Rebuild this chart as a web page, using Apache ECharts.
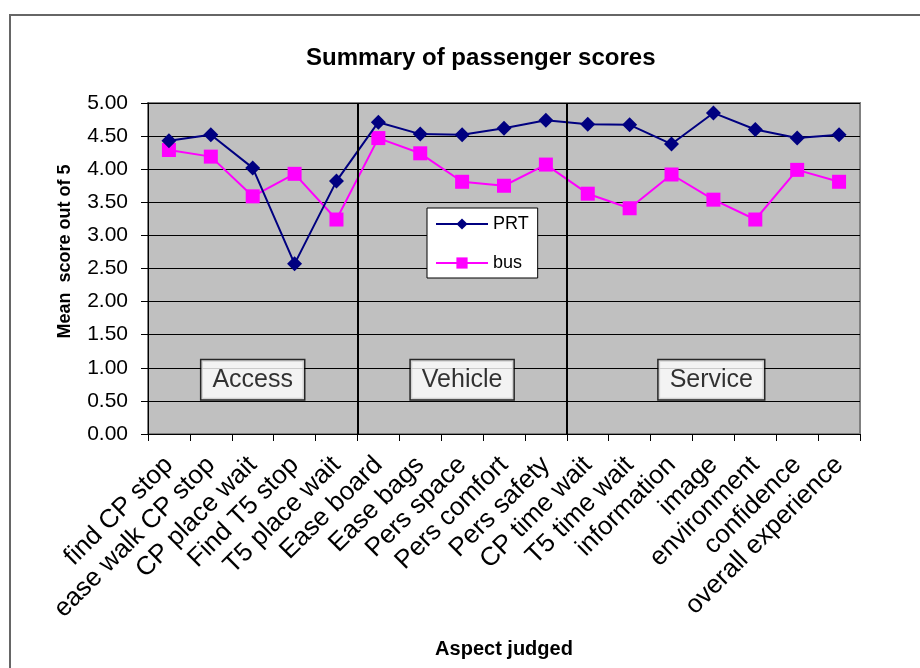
<!DOCTYPE html>
<html>
<head>
<meta charset="utf-8">
<script src="https://cdn.jsdelivr.net/npm/echarts@6/dist/echarts.min.js"></script>
<style>
  html, body { margin: 0; padding: 0; background: #fff; }
  #chart { width: 920px; height: 668px; }
</style>
</head>
<body>
<div id="chart"></div>
<script>
// Aspects judged, left to right
const categories = [
  'find CP stop', 'ease walk CP stop', 'CP place wait', 'Find T5 stop', 'T5 place wait',
  'Ease board', 'Ease bags', 'Pers space', 'Pers comfort', 'Pers safety',
  'CP time wait', 'T5 time wait', 'information', 'image', 'environment',
  'confidence', 'overall experience'
];

// Mean scores (out of 5)
const prtScores = [4.43, 4.52, 4.02, 2.57, 3.82, 4.71, 4.53, 4.52, 4.62, 4.74,
                   4.68, 4.67, 4.38, 4.85, 4.60, 4.47, 4.52];
const busScores = [4.29, 4.19, 3.59, 3.93, 3.24, 4.47, 4.24, 3.81, 3.75, 4.07,
                   3.63, 3.41, 3.92, 3.54, 3.24, 3.99, 3.81];

// Group boundaries (in category units) and group captions
const groupBoundaries = [5, 10];
const groupLabels = [
  [2.5, 0.82, 'Access'],
  [7.5, 0.82, 'Vehicle'],
  [13.45, 0.82, 'Service']
];

// Y-axis ticks
const yMin = 0, yMax = 5, yStep = 0.5;

const FONT = 'Liberation Sans, Arial, sans-serif';
const chart = echarts.init(document.getElementById('chart'));

chart.setOption({
  animation: false,
  backgroundColor: '#fff',
  textStyle: { fontFamily: FONT, color: '#000' },
  title: {
    text: 'Summary of passenger scores',
    left: 301,
    top: 41,
    textStyle: { fontFamily: FONT, fontSize: 24, fontWeight: 'bold', color: '#000' }
  },
  graphic: [{
    type: 'rect',
    shape: { x: 10, y: 15, width: 930, height: 680 },
    style: { fill: 'none', stroke: '#666', lineWidth: 2 },
    silent: true,
    z: -1
  }],
  legend: {
    orient: 'vertical',
    left: 427,
    top: 208,
    padding: [7, 9, 6, 8],
    itemGap: 21,
    itemWidth: 52,
    itemHeight: 14,
    backgroundColor: '#fff',
    borderColor: '#000',
    borderWidth: 1,
    textStyle: { fontFamily: FONT, fontSize: 18, color: '#000' },
    data: ['PRT', 'bus']
  },
  grid: {
    left: 148, right: 60, top: 103, bottom: 234,
    show: true,
    backgroundColor: '#C0C0C0',
    borderColor: '#808080',
    borderWidth: 2
  },
  xAxis: [{
    type: 'category',
    data: categories,
    boundaryGap: true,
    name: 'Aspect judged',
    nameLocation: 'middle',
    nameGap: 205,
    nameTextStyle: { fontFamily: FONT, fontSize: 20, fontWeight: 'bold', color: '#000' },
    axisLine: { lineStyle: { color: '#000', width: 1 } },
    axisTick: { show: true, alignWithLabel: false, length: 7, lineStyle: { color: '#000' }, interval: 0 },
    axisLabel: { interval: 0, rotate: 45, fontFamily: FONT, fontSize: 26, color: '#000', margin: 27 },
    splitLine: { show: false }
  }, {
    type: 'value',
    min: 0,
    max: categories.length,
    show: false
  }],
  yAxis: {
    type: 'value',
    min: yMin,
    max: yMax,
    interval: yStep,
    name: 'Mean  score out of 5',
    nameLocation: 'middle',
    nameGap: 74,
    nameTextStyle: { fontFamily: FONT, fontSize: 18, fontWeight: 'bold', color: '#000', padding: [0, 0, 0, 34] },
    axisLine: { show: true, lineStyle: { color: '#000', width: 1 } },
    axisTick: { show: true, length: 7, lineStyle: { color: '#000' } },
    axisLabel: {
      fontFamily: FONT, fontSize: 21, color: '#000', margin: 20,
      formatter: v => v.toFixed(2)
    },
    splitLine: { show: true, lineStyle: { color: '#000', width: 1 } }
  },
  series: [{
    name: 'PRT',
    type: 'line',
    data: prtScores,
    color: '#000080',
    symbol: 'diamond',
    symbolSize: 15,
    lineStyle: { width: 2, color: '#000080' },
    itemStyle: { color: '#000080' },
    z: 4
  }, {
    name: 'bus',
    type: 'line',
    data: busScores,
    color: '#FF00FF',
    symbol: 'rect',
    symbolSize: 14,
    lineStyle: { width: 2, color: '#FF00FF' },
    itemStyle: { color: '#FF00FF' },
    z: 3
  }, {
    name: 'groups',
    type: 'scatter',
    xAxisIndex: 1,
    data: groupLabels,
    symbolSize: 0,
    silent: true,
    z: 5,
    label: {
      show: true,
      position: 'inside',
      formatter: p => p.value[2],
      fontFamily: FONT,
      fontSize: 25,
      color: '#000',
      backgroundColor: '#fff',
      borderColor: '#000',
      borderWidth: 1.5,
      padding: [8, 11, 6, 11]
    },
    markLine: {
      silent: true,
      symbol: 'none',
      label: { show: false },
      lineStyle: { color: '#000', width: 2, type: 'solid' },
      data: groupBoundaries.map(b => ({ xAxis: b }))
    }
  }]
});
</script>
</body>
</html>
